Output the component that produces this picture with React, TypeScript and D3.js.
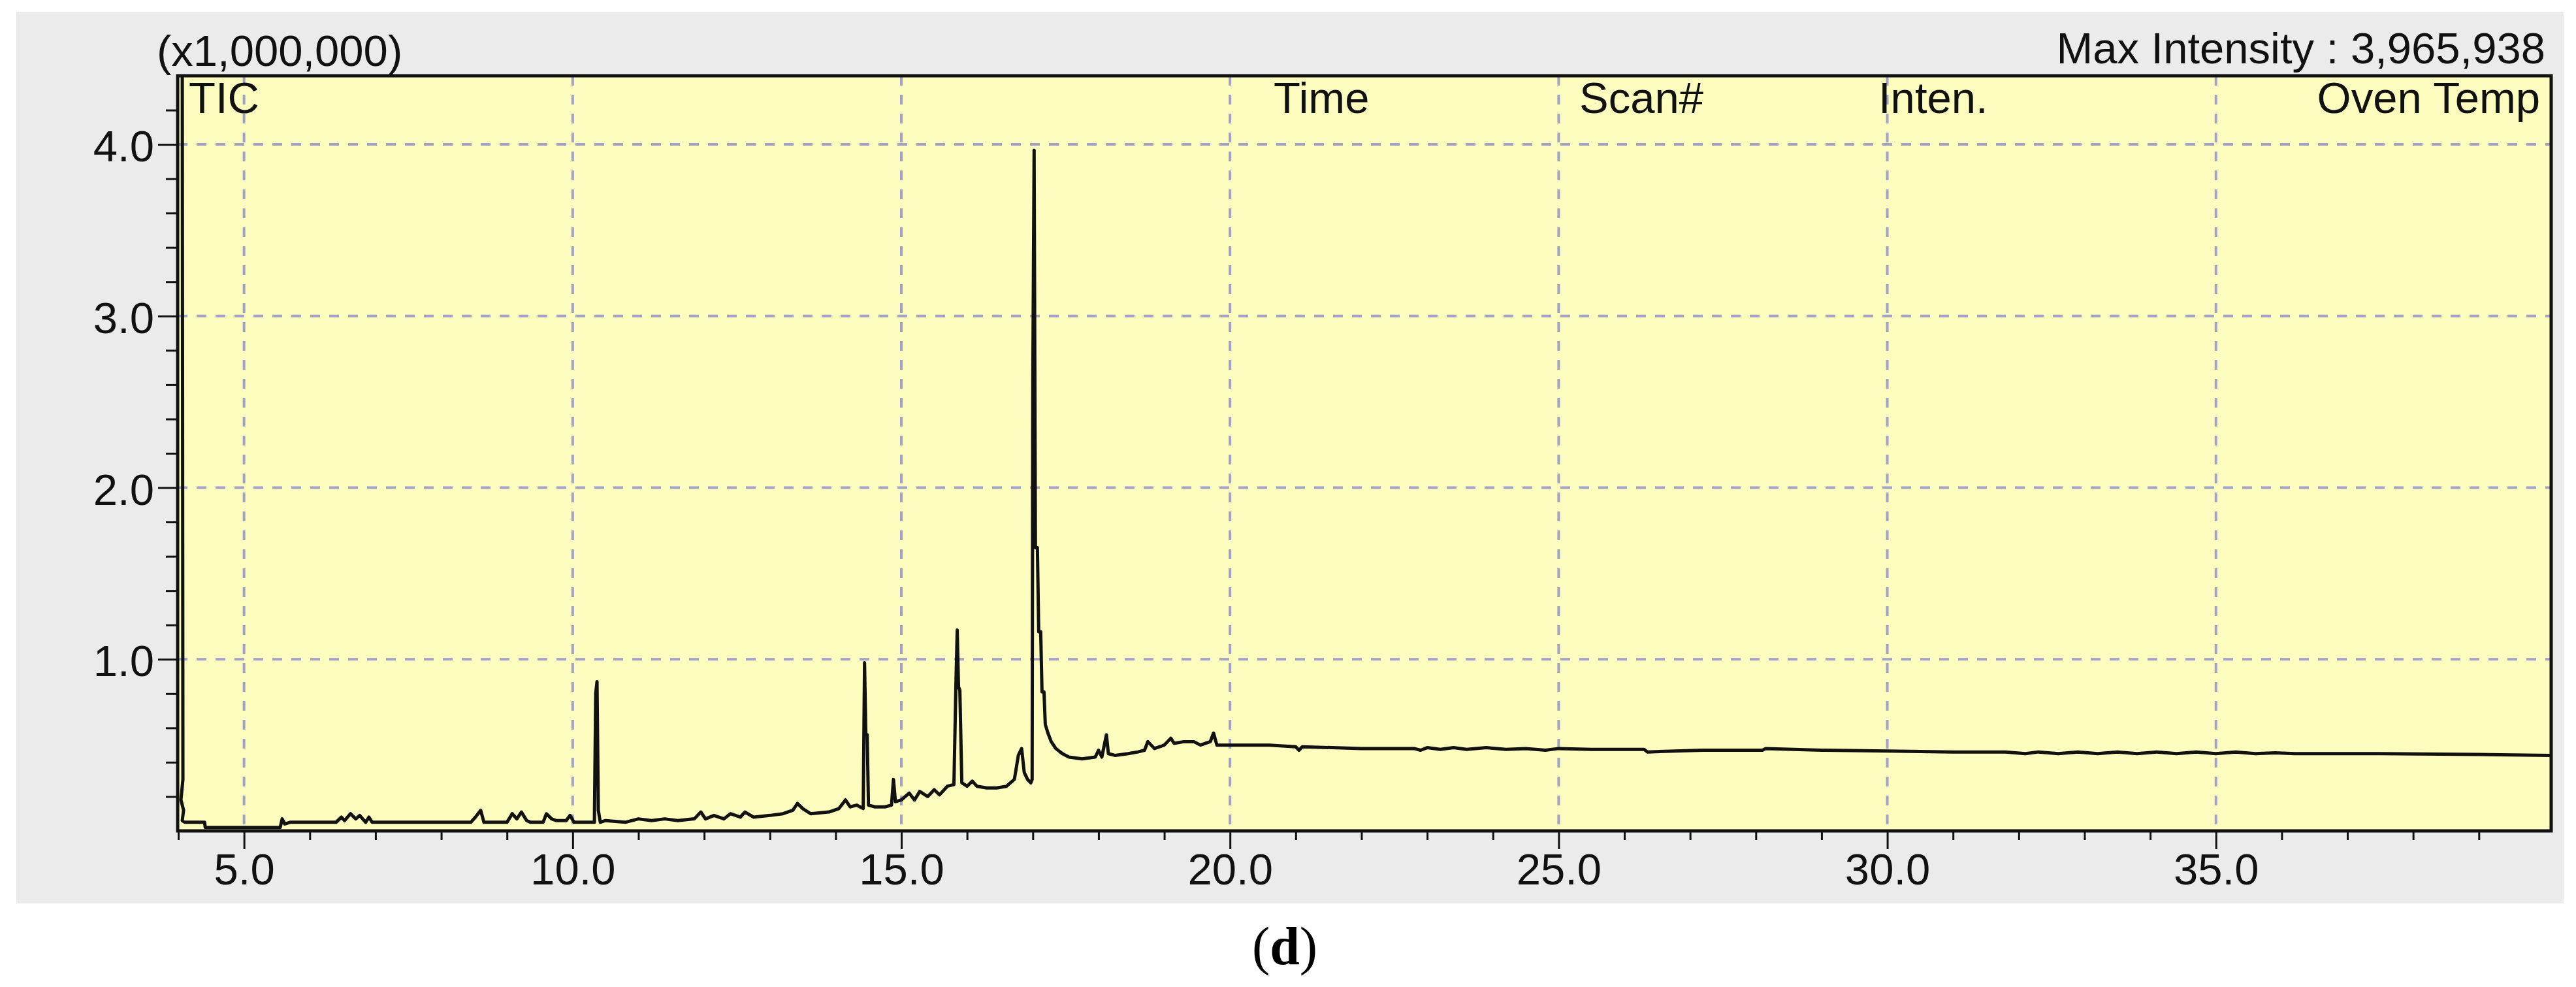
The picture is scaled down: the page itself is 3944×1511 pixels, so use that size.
import React, { useRef, useEffect } from "react";
import * as d3 from "d3";

const WIDTH = 3944;
const HEIGHT = 1511;
const PANEL = { left: 25, top: 18, right: 3925, bottom: 1383 };
const PLOT = { left: 272, top: 116, right: 3906, bottom: 1272 };

const COLOR_PANEL = "#ebebeb";
const COLOR_PLOT = "#fdfcbf";
const COLOR_GRID = "#a2a2c8";
const COLOR_INK = "#111111";
const FONT = "'Liberation Sans', Arial, sans-serif";
const FONT_SIZE = 67;

// retention time (min) / TIC intensity (x1,000,000)
const retentionTime = [
  4.06, 4.07, 4.04, 4.08, 4.06, 4.1, 4.4, 4.41, 5.55, 5.58, 5.62, 5.7,
  6.4, 6.48, 6.53, 6.62, 6.7, 6.76, 6.85, 6.9, 6.95,
  8.45, 8.52, 8.6, 8.65,
  9.0, 9.08, 9.15, 9.22, 9.3, 9.36, 9.55, 9.6, 9.68, 9.75, 9.9, 9.96, 10.02,
  10.33, 10.35, 10.37, 10.39, 10.42, 10.5,
  10.8, 11.0, 11.2, 11.4, 11.6, 11.85, 11.95, 12.02, 12.15, 12.3, 12.4,
  12.55, 12.62, 12.75, 13.0, 13.2, 13.35, 13.42, 13.5, 13.62, 13.9, 14.05,
  14.15, 14.22, 14.32, 14.42,
  14.44, 14.46, 14.48, 14.5, 14.6, 14.75, 14.85, 14.88, 14.91, 15.0, 15.12,
  15.2, 15.28, 15.4, 15.5, 15.58, 15.7, 15.8,
  15.83, 15.85, 15.87, 15.89, 15.92, 16.0, 16.08, 16.15, 16.3, 16.45, 16.6,
  16.72, 16.78, 16.83, 16.87, 16.92, 16.97,
  16.99, 17.0, 17.02, 17.04, 17.07, 17.09, 17.12, 17.14, 17.17, 17.19, 17.23,
  17.28, 17.35, 17.45, 17.55, 17.75, 17.95, 18.0, 18.05, 18.12, 18.15, 18.25,
  18.45, 18.6, 18.7, 18.75, 18.85, 19.0, 19.1, 19.15, 19.3, 19.45, 19.55,
  19.7, 19.75, 19.8, 20.0,
  20.6, 21.0, 21.05, 21.1, 22.0, 22.8, 22.9, 23.0, 23.2, 23.4, 23.6, 23.9,
  24.2, 24.5, 24.8, 25.0, 25.5, 26.3, 26.35, 27.2, 28.1, 28.15, 29.0, 30.0,
  31.0, 31.8, 32.1, 32.3, 32.6, 32.9, 33.2, 33.5, 33.8, 34.1, 34.4, 34.7,
  35.0, 35.3, 35.6, 35.9, 36.2, 37.5, 39.0, 40.1,
];

const intensity = [
  4.6, 0.3, 0.18, 0.12, 0.06, 0.05, 0.05, 0.02, 0.02, 0.07, 0.04, 0.05,
  0.05, 0.08, 0.06, 0.1, 0.07, 0.09, 0.05, 0.08, 0.05,
  0.05, 0.08, 0.12, 0.05,
  0.05, 0.1, 0.07, 0.11, 0.06, 0.05, 0.05, 0.1, 0.07, 0.06, 0.06, 0.09, 0.05,
  0.05, 0.8, 0.87, 0.12, 0.05, 0.06,
  0.05, 0.07, 0.06, 0.07, 0.06, 0.07, 0.11, 0.07, 0.09, 0.07, 0.1,
  0.08, 0.11, 0.08, 0.09, 0.1, 0.12, 0.16, 0.13, 0.1, 0.11, 0.13,
  0.18, 0.14, 0.15, 0.13,
  0.98, 0.56, 0.56, 0.15, 0.14, 0.14, 0.15, 0.3, 0.17, 0.18, 0.22,
  0.18, 0.23, 0.2, 0.24, 0.21, 0.26, 0.27,
  0.85, 1.17, 0.84, 0.82, 0.28, 0.26, 0.29, 0.26, 0.25, 0.25, 0.26,
  0.3, 0.44, 0.48, 0.34, 0.3, 0.28,
  0.3, 2.63, 3.966, 1.65, 1.65, 1.16, 1.16, 0.81, 0.81, 0.62, 0.57,
  0.52, 0.48, 0.45, 0.43, 0.42, 0.43, 0.47, 0.43, 0.56, 0.45, 0.44,
  0.45, 0.46, 0.47, 0.52, 0.48, 0.5, 0.54, 0.51, 0.52, 0.52, 0.5,
  0.52, 0.57, 0.5, 0.5,
  0.5, 0.49, 0.47, 0.49, 0.48, 0.48, 0.47, 0.485, 0.475, 0.485, 0.475, 0.485,
  0.475, 0.48, 0.47, 0.48, 0.475, 0.475, 0.46, 0.47, 0.47, 0.48, 0.47, 0.465,
  0.46, 0.46, 0.45, 0.46, 0.45, 0.46, 0.45, 0.46, 0.45, 0.46, 0.45, 0.46,
  0.45, 0.46, 0.45, 0.455, 0.45, 0.45, 0.445, 0.44,
];

const xTickLabels = [5, 10, 15, 20, 25, 30, 35];
const yTickLabels = [1, 2, 3, 4];
const scaleLabel = "(x1,000,000)";
const maxIntensityLabel = "Max Intensity : 3,965,938";
const traceLabel = "TIC";
const columnLabels = [
  { text: "Time", x: 1950 },
  { text: "Scan#", x: 2418 },
  { text: "Inten.", x: 2876 },
];
const ovenLabel = "Oven Temp";

const styleAxis = (g) => {
  g.select(".domain").remove();
  g.selectAll(".tick line").attr("stroke", COLOR_INK).attr("stroke-width", 3);
  g.selectAll(".tick text")
    .attr("fill", COLOR_INK)
    .style("font-family", FONT)
    .style("font-size", `${FONT_SIZE}px`);
};

const drawChart = (svg) => {
  const x = d3.scaleLinear().domain([3.99, 40.1]).range([PLOT.left, PLOT.right]);
  const y = d3.scaleLinear().domain([0, 4.4]).range([PLOT.bottom, PLOT.top]);

  // backgrounds
  svg
    .append("rect")
    .attr("x", PANEL.left)
    .attr("y", PANEL.top)
    .attr("width", PANEL.right - PANEL.left)
    .attr("height", PANEL.bottom - PANEL.top)
    .attr("fill", COLOR_PANEL);

  svg
    .append("rect")
    .attr("x", PLOT.left)
    .attr("y", PLOT.top)
    .attr("width", PLOT.right - PLOT.left)
    .attr("height", PLOT.bottom - PLOT.top)
    .attr("fill", COLOR_PLOT);

  // grid
  const grid = svg
    .append("g")
    .attr("stroke", COLOR_GRID)
    .attr("stroke-width", 4)
    .attr("stroke-dasharray", "15,14");

  grid
    .selectAll("line.vgrid")
    .data(xTickLabels)
    .enter()
    .append("line")
    .attr("class", "vgrid")
    .attr("x1", (d) => x(d))
    .attr("x2", (d) => x(d))
    .attr("y1", PLOT.top)
    .attr("y2", PLOT.bottom);

  grid
    .selectAll("line.hgrid")
    .data(yTickLabels)
    .enter()
    .append("line")
    .attr("class", "hgrid")
    .attr("x1", PLOT.left)
    .attr("x2", PLOT.right)
    .attr("y1", (d) => y(d))
    .attr("y2", (d) => y(d));

  // trace
  svg
    .append("defs")
    .append("clipPath")
    .attr("id", "plotClip")
    .append("rect")
    .attr("x", PLOT.left)
    .attr("y", PLOT.top)
    .attr("width", PLOT.right - PLOT.left)
    .attr("height", PLOT.bottom - PLOT.top);

  const points = retentionTime.map((t, i) => [t, intensity[i]]);
  const trace = d3
    .line()
    .x((d) => x(d[0]))
    .y((d) => y(d[1]));

  svg
    .append("path")
    .datum(points)
    .attr("clip-path", "url(#plotClip)")
    .attr("fill", "none")
    .attr("stroke", COLOR_INK)
    .attr("stroke-width", 5)
    .attr("stroke-linejoin", "round")
    .attr("d", trace);

  // frame
  svg
    .append("rect")
    .attr("x", PLOT.left)
    .attr("y", PLOT.top)
    .attr("width", PLOT.right - PLOT.left)
    .attr("height", PLOT.bottom - PLOT.top)
    .attr("fill", "none")
    .attr("stroke", COLOR_INK)
    .attr("stroke-width", 5);

  // axes
  const xMinor = d3.range(4, 41).filter((d) => d % 5 !== 0);
  const yMinor = d3.range(1, 22).map((d) => d / 5).filter((d) => d % 1 !== 0);

  svg
    .append("g")
    .attr("transform", `translate(0,${PLOT.bottom})`)
    .call(d3.axisBottom(x).tickValues(xMinor).tickSize(14).tickFormat(() => ""))
    .call(styleAxis);

  svg
    .append("g")
    .attr("transform", `translate(0,${PLOT.bottom})`)
    .call(
      d3
        .axisBottom(x)
        .tickValues(xTickLabels)
        .tickSize(28)
        .tickPadding(6)
        .tickFormat(d3.format(".1f"))
    )
    .call(styleAxis);

  svg
    .append("g")
    .attr("transform", `translate(${PLOT.left},0)`)
    .call(d3.axisLeft(y).tickValues(yMinor).tickSize(18).tickFormat(() => ""))
    .call(styleAxis);

  svg
    .append("g")
    .attr("transform", `translate(${PLOT.left},0)`)
    .call(
      d3
        .axisLeft(y)
        .tickValues(yTickLabels)
        .tickSize(30)
        .tickPadding(6)
        .tickFormat(d3.format(".1f"))
    )
    .call(styleAxis)
    .call((g) => g.selectAll(".tick text").attr("dy", "0.38em"));

  // labels
  const label = (text, px, py, anchor = "start") =>
    svg
      .append("text")
      .attr("x", px)
      .attr("y", py)
      .attr("text-anchor", anchor)
      .attr("fill", COLOR_INK)
      .style("font-family", FONT)
      .style("font-size", `${FONT_SIZE}px`)
      .text(text);

  label(scaleLabel, 240, 101);
  label(maxIntensityLabel, 3897, 97, "end");
  label(traceLabel, 289, 173);
  columnLabels.forEach((c) => label(c.text, c.x, 173));
  label(ovenLabel, 3889, 173, "end");

  const caption = svg
    .append("text")
    .attr("x", 1967)
    .attr("y", 1476)
    .attr("text-anchor", "middle")
    .attr("fill", "#000")
    .style("font-family", "'Liberation Serif', 'Times New Roman', serif")
    .style("font-size", "82px");
  caption.append("tspan").text("(");
  caption.append("tspan").attr("font-weight", "bold").text("d");
  caption.append("tspan").text(")");
};

export default function App() {
  const svgRef = useRef(null);

  useEffect(() => {
    const svg = d3.select(svgRef.current);
    svg.selectAll("*").remove();
    drawChart(svg);
  }, []);

  return (
    <svg
      ref={svgRef}
      width={WIDTH}
      height={HEIGHT}
      style={{ position: "absolute", left: 0, top: 0, background: "#fff", display: "block" }}
    />
  );
}
